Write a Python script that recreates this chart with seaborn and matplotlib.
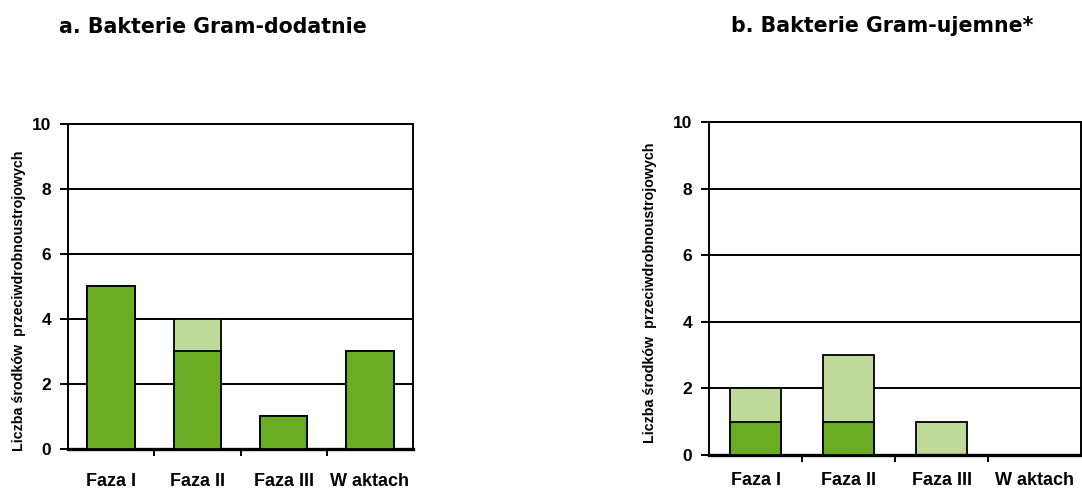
import matplotlib
matplotlib.use("Agg")
import matplotlib.pyplot as plt
import seaborn as sns
import pandas as pd

# data
categories = ["Faza I", "Faza II", "Faza III", "W aktach"]
gram_pos_dark = [5, 3, 1, 3]
gram_pos_light = [0, 1, 0, 0]
gram_neg_dark = [1, 1, 0, 0]
gram_neg_light = [1, 2, 1, 0]

titles = ["a. Bakterie Gram-dodatnie", "b. Bakterie Gram-ujemne*"]
ylabel = "Liczba środków  przeciwdrobnoustrojowych"

dark_green = "#6aac24"
light_green = "#c0da9a"

sns.set_style("white")
plt.rcParams["font.family"] = ["Liberation Sans", "DejaVu Sans"]
plt.rcParams["text.color"] = "black"
plt.rcParams["axes.labelcolor"] = "black"
plt.rcParams["xtick.color"] = "black"
plt.rcParams["ytick.color"] = "black"

fig = plt.figure(figsize=(10.82, 4.92), dpi=100)
ax1 = fig.add_axes([0.0628, 0.0874, 0.319, 0.6606])
ax2 = fig.add_axes([0.6553, 0.0752, 0.3438, 0.6768])


def draw_panel(ax, dark, light, title_x, title_y, title, lab_xy, xpad):
    df = pd.DataFrame({"cat": categories, "dark": dark,
                       "total": [d + l for d, l in zip(dark, light)]})
    # grid lines under bars
    for y in [2, 4, 6, 8, 10]:
        ax.axhline(y, color="black", lw=1.4, zorder=0)
    sns.barplot(data=df, x="cat", y="total", color=light_green, saturation=1,
                width=0.55, edgecolor="black", linewidth=1.3, ax=ax, zorder=2)
    sns.barplot(data=df, x="cat", y="dark", color=dark_green, saturation=1,
                width=0.55, edgecolor="black", linewidth=1.3, ax=ax, zorder=3)
    # hide zero-height bars
    for p in ax.patches:
        if p.get_height() == 0:
            p.set_visible(False)
    ax.set_xlim(-0.5, 3.5)
    ax.set_ylim(0, 10)
    ax.set_yticks([0, 2, 4, 6, 8, 10])
    ax.set_xticks(range(4))
    ax.set_xticklabels(categories, fontsize=13, fontweight="bold")
    ax.set_xticks([0.5, 1.5, 2.5], minor=True)
    ax.tick_params(axis="x", which="major", bottom=False, length=0, pad=xpad)
    ax.tick_params(axis="x", which="minor", bottom=True, length=5, width=1.4,
                   direction="out", color="black")
    ax.tick_params(axis="y", left=True, length=6, width=1.4, direction="out",
                   color="black", labelsize=12.5, pad=6)
    for lbl in ax.get_yticklabels():
        lbl.set_fontweight("bold")
    ax.set_xlabel("")
    ax.set_ylabel(ylabel, fontsize=10.3, fontweight="bold")
    ax.yaxis.set_label_coords(*lab_xy)
    for s in ["left", "right", "top"]:
        ax.spines[s].set_linewidth(1.4)
        ax.spines[s].set_color("black")
    ax.spines["bottom"].set_linewidth(2.4)
    ax.spines["bottom"].set_color("black")
    fig.text(title_x, title_y, title, ha="center", va="center", fontsize=14.8,
             fontweight="bold", family="DejaVu Sans")


draw_panel(ax1, gram_pos_dark, gram_pos_light, 0.197, 0.945, titles[0],
           (-0.122, 0.455), 17)
draw_panel(ax2, gram_neg_dark, gram_neg_light, 0.815, 0.947, titles[1],
           (-0.140, 0.486), 12)

fig.savefig("out.png", dpi=100, facecolor="white")
